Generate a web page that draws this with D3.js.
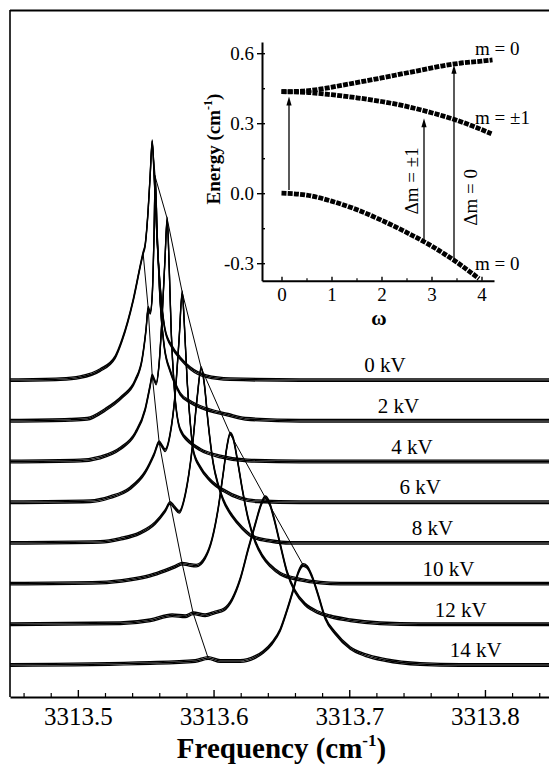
<!doctype html>
<html lang="en">
<head>
<meta charset="utf-8">
<title>Stark spectra</title>
<script src="https://cdn.jsdelivr.net/npm/d3@7"></script>
<style>
  body { margin: 0; background: #fff; }
  svg text { fill: #000; }
</style>
</head>
<body>
<svg id="chart" width="549" height="768"></svg>
<script>
// field labels, stacking offsets (a.u.) and label anchors
const fields = ["0 kV", "2 kV", "4 kV", "6 kV", "8 kV", "10 kV", "12 kV", "14 kV"];
const offsets = [31.69, 27.62, 23.55, 19.48, 15.41, 11.34, 7.27, 3.2];
const labelFreq = [3313.711, 3313.721, 3313.731, 3313.737, 3313.746, 3313.754, 3313.763, 3313.774];
// small (left) component of each trace, joined by the left guide line
const shoulderFreq = [3313.5481, 3313.5518, 3313.5548, 3313.5599, 3313.5680, 3313.5769, 3313.5850, 3313.5960];

// spectra: [frequency cm-1, intensity a.u.]
const spec0kV = [[3313.4501,0],[3313.4870,0.1],[3313.5017,0.3],[3313.5164,1.0],[3313.5275,2.3],[3313.5326,4.0],[3313.5408,8.0],[3313.5466,11.8],[3313.5481,12.7],[3313.5496,13.5],[3313.5518,17.0],[3313.5533,20.5],[3313.5548,23.9],[3313.5562,20.5],[3313.5584,14.0],[3313.5606,9.5],[3313.5643,5.0],[3313.5695,3.3],[3313.5754,2.2],[3313.5828,1.2],[3313.5946,0.4],[3313.6122,0.1],[3313.6638,0],[3313.85,0]];
const spec2kV = [[3313.4501,0],[3313.4943,0.1],[3313.5069,0.2],[3313.5201,1.1],[3313.5326,2.4],[3313.5422,4.0],[3313.5474,6.2],[3313.5503,9.2],[3313.5518,11.3],[3313.5533,10.8],[3313.5548,12.5],[3313.5562,19.0],[3313.5570,24.4],[3313.5584,19.0],[3313.5606,12.0],[3313.5636,7.5],[3313.5680,5.0],[3313.5717,3.7],[3313.5754,2.7],[3313.5828,1.9],[3313.5901,1.4],[3313.6108,0.6],[3313.6233,0.2],[3313.6638,0],[3313.85,0]];
const spec4kV = [[3313.4501,0],[3313.5017,0.1],[3313.5164,0.4],[3313.5312,1.3],[3313.5422,2.8],[3313.5496,5.2],[3313.5533,7.6],[3313.5548,8.6],[3313.5562,8.2],[3313.5577,7.8],[3313.5599,9.8],[3313.5621,14.5],[3313.5643,20.5],[3313.5658,24.3],[3313.5673,19.5],[3313.5688,13.0],[3313.5710,7.5],[3313.5754,3.2],[3313.5828,1.9],[3313.5901,1.2],[3313.6049,0.5],[3313.6248,0.1],[3313.6638,0],[3313.85,0]];
const spec6kV = [[3313.4501,0],[3313.5091,0.1],[3313.5238,0.5],[3313.5385,1.4],[3313.5496,3.0],[3313.5562,4.8],[3313.5599,6.0],[3313.5621,5.6],[3313.5643,5.2],[3313.5680,6.8],[3313.5717,10.8],[3313.5747,16.5],[3313.5769,21.0],[3313.5784,18.0],[3313.5806,12.0],[3313.5828,8.0],[3313.5850,5.2],[3313.5901,3.5],[3313.5975,2.2],[3313.6071,1.2],[3313.6196,0.4],[3313.6322,0.1],[3313.6638,0],[3313.85,0]];
const spec8kV = [[3313.4501,0],[3313.5164,0.1],[3313.5312,0.4],[3313.5459,1.0],[3313.5570,2.0],[3313.5643,3.2],[3313.5680,4.0],[3313.5710,3.6],[3313.5747,3.1],[3313.5791,4.8],[3313.5843,9.5],[3313.5879,14.5],[3313.5909,17.5],[3313.5931,16.0],[3313.5960,12.0],[3313.5997,8.0],[3313.6034,5.8],[3313.6071,4.3],[3313.6137,2.7],[3313.6211,1.5],[3313.6292,0.6],[3313.6417,0.2],[3313.6564,0],[3313.85,0]];
const spec10kV = [[3313.4501,0],[3313.5164,0.1],[3313.5385,0.4],[3313.5533,0.8],[3313.5643,1.3],[3313.5717,1.7],[3313.5769,2.0],[3313.5814,1.9],[3313.5872,1.8],[3313.5938,2.6],[3313.5990,4.5],[3313.6034,7.5],[3313.6071,11.0],[3313.6100,13.8],[3313.6122,15.0],[3313.6145,14.5],[3313.6174,12.5],[3313.6211,9.5],[3313.6255,6.5],[3313.6307,4.2],[3313.6358,2.8],[3313.6417,1.8],[3313.6491,1.0],[3313.6638,0.4],[3313.6786,0.1],[3313.6933,0],[3313.85,0]];
const spec12kV = [[3313.4501,0],[3313.5312,0.1],[3313.5533,0.4],[3313.5695,0.9],[3313.5791,0.8],[3313.5850,1.1],[3313.5938,0.9],[3313.6012,1.2],[3313.6078,1.5],[3313.6137,2.5],[3313.6196,4.5],[3313.6255,7.5],[3313.6307,10.0],[3313.6351,12.0],[3313.6380,12.7],[3313.6410,12.2],[3313.6447,10.5],[3313.6491,8.0],[3313.6542,5.2],[3313.6601,3.3],[3313.6675,2.0],[3313.6771,1.2],[3313.6859,0.8],[3313.7007,0.4],[3313.7228,0.1],[3313.7523,0],[3313.85,0]];
const spec14kV = [[3313.4501,0],[3313.5533,0.2],[3313.5865,0.4],[3313.5960,0.7],[3313.6049,0.4],[3313.6196,0.4],[3313.6307,0.8],[3313.6366,1.3],[3313.6432,2.2],[3313.6491,3.5],[3313.6542,5.5],[3313.6587,7.5],[3313.6623,9.2],[3313.6660,10.0],[3313.6690,9.8],[3313.6727,8.8],[3313.6771,7.0],[3313.6823,4.7],[3313.6896,3.2],[3313.7007,1.7],[3313.7117,1.0],[3313.7265,0.5],[3313.7523,0.1],[3313.7817,0],[3313.85,0]];
const spectra = [spec0kV, spec2kV, spec4kV, spec6kV, spec8kV, spec10kV, spec12kV, spec14kV];

const freqMajor = [3313.5, 3313.6, 3313.7, 3313.8];
const freqMinor = [3313.46, 3313.48, 3313.52, 3313.54, 3313.56, 3313.58, 3313.62, 3313.64, 3313.66, 3313.68, 3313.72, 3313.74, 3313.76, 3313.78, 3313.82, 3313.84];

// inset: energy levels vs omega
const levelUpper = [[0,0.435],[0.4,0.437],[0.8,0.447],[1.2,0.462],[1.6,0.478],[2,0.494],[2.4,0.511],[2.8,0.528],[3.2,0.545],[3.6,0.558],[4.0,0.566],[4.22,0.571]];
const levelMiddle = [[0,0.435],[0.5,0.432],[1,0.422],[1.5,0.409],[2,0.393],[2.5,0.372],[3,0.345],[3.5,0.313],[4.2,0.255]];
const levelLower = [[0,0],[0.5,-0.008],[1,-0.034],[1.5,-0.07],[2,-0.116],[2.5,-0.168],[3,-0.226],[3.5,-0.295],[3.95,-0.366]];
const transitions = [[0.15,0.014,0.414],[2.85,-0.203,0.321],[3.45,-0.29,0.55]];
const levelLabels = [["m = 0",3.87,0.592],["m = \u00b11",3.87,0.297],["m = 0",3.87,-0.329]];
const transLabels = [["\u0394m = \u00b11",2.73,0.053],["\u0394m = 0",3.91,-0.018]];
const omegaTicks = [0, 1, 2, 3, 4];
const omegaMinor = [0.5, 1.5, 2.5, 3.5];
const energyTicks = [-0.3, 0.0, 0.3, 0.6];
const energyMinor = [-0.15, 0.15, 0.45];

// pick the first installed Times-like face
function pickFont(list) {
  const c = document.createElement("canvas").getContext("2d");
  const sample = "mmmmmmmmmmlli1WQ 3313.5 Frequency";
  const w = f => { c.font = "40px " + f; return c.measureText(sample).width; };
  const bases = ["monospace", "sans-serif"];
  const ref = bases.map(w);
  for (const name of list) {
    const got = bases.map(b => w(`"${name}", ${b}`));
    if (got[0] !== ref[0] || got[1] !== ref[1]) return `"${name}"`;
  }
  return "serif";
}
const serif = pickFont(["Liberation Serif", "Times New Roman", "Tinos", "Times", "DejaVu Serif", "Noto Serif", "FreeSerif"]);

const svg = d3.select("#chart");

// ---------- main panel ----------
const x = d3.scaleLinear().domain([3313.45, 3313.85]).range([10, 552.8]);
const y = d3.scaleLinear().domain([0, 68.7]).range([697, 10]);

svg.append("clipPath").attr("id", "plotclip")
  .append("rect").attr("x", 10).attr("y", 10).attr("width", 539).attr("height", 687);

const traces = svg.append("g").attr("clip-path", "url(#plotclip)");
spectra.forEach((spec, k) => {
  const line = d3.line()
    .x(d => x(d[0]))
    .y(d => y(offsets[k] + d[1]))
    .curve(d3.curveMonotoneX);
  // vertical "pen" so flat noisy parts look heavy and steep flanks thin
  [-1.3, 0, 1.3].forEach(dy => {
    traces.append("path").datum(spec)
      .attr("d", line)
      .attr("transform", `translate(0,${dy})`)
      .attr("fill", "none").attr("stroke", "#000").attr("stroke-width", 1.3);
  });
});

// guide lines through the peak maxima
const mainPeaks = spectra.map((s, k) => { const p = d3.greatest(s, d => d[1]); return [p[0], offsets[k] + p[1]]; });
const sidePeaks = spectra.map((s, k) => { const p = s.find(d => d[0] === shoulderFreq[k]); return [p[0], offsets[k] + p[1]]; });
const guide = d3.line().x(d => x(d[0])).y(d => y(d[1]));
[mainPeaks, sidePeaks].forEach(pts => {
  traces.append("path").datum(pts).attr("d", guide)
    .attr("fill", "none").attr("stroke", "#000").attr("stroke-width", 1);
});

// field labels
svg.append("g").selectAll("text").data(fields).join("text")
  .attr("x", (d, i) => x(labelFreq[i]))
  .attr("y", (d, i) => y(offsets[i] + 0.78))
  .attr("font-size", 21)
  .text(d => d);

// frame
svg.append("line").attr("x1", 10).attr("x2", 10).attr("y1", 10).attr("y2", 697)
  .attr("stroke", "#000").attr("stroke-width", 1.6);
svg.append("line").attr("x1", 10).attr("x2", 549).attr("y1", 10.5).attr("y2", 10.5)
  .attr("stroke", "#000").attr("stroke-width", 2);

// bottom axis
const xAxis = svg.append("g").attr("transform", "translate(0,697)")
  .call(d3.axisBottom(x).tickValues(freqMajor).tickSize(-7).tickSizeOuter(0).tickPadding(10)
    .tickFormat(d => d.toFixed(1)));
xAxis.select(".domain").attr("stroke-width", 2);
xAxis.selectAll(".tick line").attr("stroke-width", 1.4);
xAxis.selectAll("text").attr("font-size", 25);
svg.append("g").attr("transform", "translate(0,697)")
  .call(d3.axisBottom(x).tickValues(freqMinor).tickSize(-4).tickSizeOuter(0).tickFormat(""))
  .call(g => g.select(".domain").remove())
  .selectAll(".tick line").attr("stroke-width", 1.2);

const xTitle = svg.append("text").attr("x", 281.5).attr("y", 758)
  .attr("text-anchor", "middle").attr("font-size", 29).attr("font-weight", "bold");
xTitle.append("tspan").text("Frequency (cm");
xTitle.append("tspan").attr("dy", -12).attr("font-size", 17).text("-1");
xTitle.append("tspan").attr("dy", 12).text(")");

// ---------- inset ----------
const xw = d3.scaleLinear().domain([-0.39, 4.25]).range([262, 494]);
const yE = d3.scaleLinear().domain([-0.375, 0.648]).range([280.7, 42]);

const levelLine = d3.line().x(d => xw(d[0])).y(d => yE(d[1])).curve(d3.curveMonotoneX);
[levelUpper, levelMiddle, levelLower].forEach(lv => {
  svg.append("path").datum(lv).attr("d", levelLine)
    .attr("fill", "none").attr("stroke", "#000").attr("stroke-width", 4.8)
    .attr("stroke-dasharray", "5,1.2");
});

// transition arrows
transitions.forEach(([w, e0, e1]) => {
  const xp = xw(w), yt = yE(e1);
  svg.append("line").attr("x1", xp).attr("x2", xp).attr("y1", yE(e0)).attr("y2", yt + 6)
    .attr("stroke", "#000").attr("stroke-width", 1.3);
  svg.append("path").attr("d", `M${xp},${yt}L${xp - 2.6},${yt + 9}L${xp + 2.6},${yt + 9}Z`)
    .attr("fill", "#000");
});

svg.append("g").selectAll("text").data(levelLabels).join("text")
  .attr("x", d => xw(d[1])).attr("y", d => yE(d[2]))
  .attr("font-size", 19).text(d => d[0]);
svg.append("g").selectAll("text").data(transLabels).join("text")
  .attr("transform", d => `translate(${xw(d[1])},${yE(d[2])}) rotate(-90)`)
  .attr("text-anchor", "middle").attr("font-size", 19).text(d => d[0]);

// inset axes
const eAxis = svg.append("g").attr("transform", "translate(262,0)")
  .call(d3.axisLeft(yE).tickValues(energyTicks).tickSize(5).tickSizeOuter(0).tickPadding(3)
    .tickFormat(d => d.toFixed(1)));
eAxis.select(".domain").attr("stroke-width", 2);
eAxis.selectAll(".tick line").attr("stroke-width", 1.4);
eAxis.selectAll("text").attr("font-size", 19);
svg.append("g").attr("transform", "translate(262,0)")
  .call(d3.axisLeft(yE).tickValues(energyTicks.concat(energyMinor)).tickSize(-3).tickSizeOuter(0).tickFormat(""))
  .call(g => g.select(".domain").remove())
  .selectAll(".tick line").attr("stroke-width", 1.4);

const wAxis = svg.append("g").attr("transform", "translate(0,280.7)")
  .call(d3.axisBottom(xw).tickValues(omegaTicks).tickSize(-4).tickSizeOuter(0).tickPadding(7)
    .tickFormat(d => d));
wAxis.select(".domain").attr("stroke-width", 2);
wAxis.selectAll(".tick line").attr("stroke-width", 1.4);
wAxis.selectAll("text").attr("font-size", 19);
svg.append("g").attr("transform", "translate(0,280.7)")
  .call(d3.axisBottom(xw).tickValues(omegaMinor).tickSize(-2.5).tickSizeOuter(0).tickFormat(""))
  .call(g => g.select(".domain").remove())
  .selectAll(".tick line").attr("stroke-width", 1.2);

svg.append("text").attr("x", 379).attr("y", 325).attr("text-anchor", "middle")
  .attr("font-size", 21).attr("font-weight", "bold").text("\u03c9");

const yTitle = svg.append("text").attr("transform", "translate(220,149) rotate(-90)")
  .attr("text-anchor", "middle").attr("font-size", 19).attr("font-weight", "bold");
yTitle.append("tspan").text("Energy (cm");
yTitle.append("tspan").attr("dy", -8).attr("font-size", 12).text("-1");
yTitle.append("tspan").attr("dy", 8).text(")");

svg.selectAll("text").style("font-family", serif);
svg.selectAll("g").attr("font-family", null);
</script>
</body>
</html>
